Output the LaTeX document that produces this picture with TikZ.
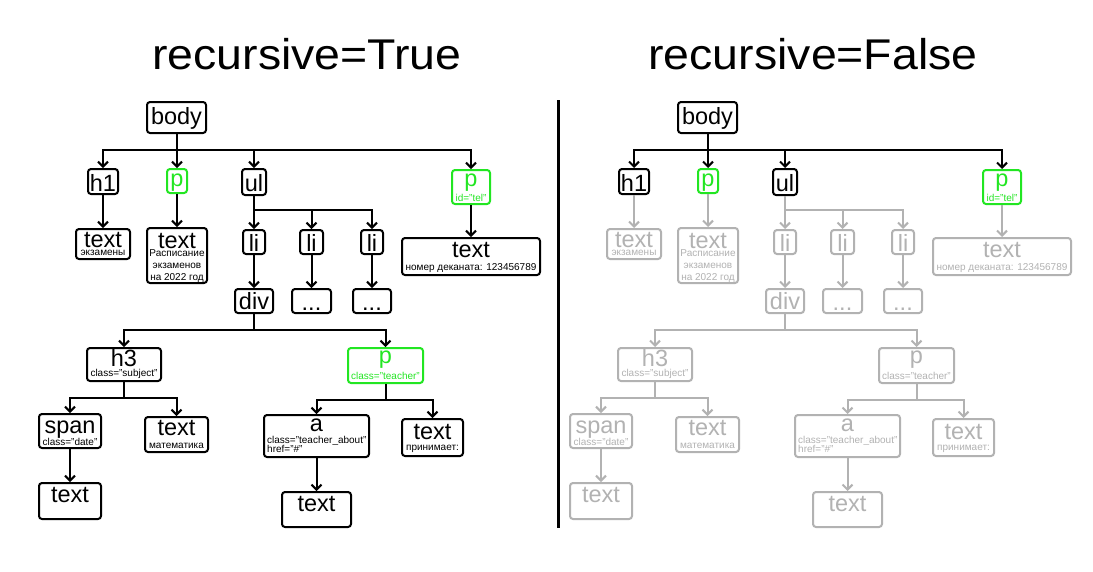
\documentclass[tikz,border=0pt]{standalone}
\usepackage{fontspec}
\usepackage{graphicx}
\setmainfont{Liberation Sans}
\usetikzlibrary{arrows.meta}
\definecolor{grn}{RGB}{34,230,34}
\definecolor{gry}{RGB}{178,178,178}
\newcommand\mainf{\fontsize{23.5}{26}\selectfont}
\newcommand\subf{\fontsize{10}{12}\selectfont}
\newcommand\titf{\fontsize{43}{50}\selectfont}
\newcommand\bx[6]{\node[box,#6,minimum width={(#4-#2-2)*1pt},minimum height={(#5-#3-2)*1pt}] (#1) at ({(#2+#4)/2},{(#3+#5)/2}) {};}
\newcommand\domtree{%
  \coordinate (b1) at (0,149.5);
  \coordinate (b2) at (0,209.5);
  \coordinate (b3) at (0,330);
  \coordinate (b4) at (0,398);
  \coordinate (b5) at (0,399.5);
  % boxes
  \bx{body}{146}{101}{207}{134}{cK}
  \bx{h1}{87}{168}{119}{195}{cK}
  \bx{pA}{166}{168}{188}{194}{cGA}
  \bx{ul}{241}{168}{267}{196}{cK}
  \bx{pTel}{451}{169}{491}{205}{cGA}
  \bx{t1}{75}{228}{131}{260}{cR}
  \bx{t2}{146}{227}{208}{284}{cR}
  \bx{li1}{242}{229}{266}{255}{cR}
  \bx{li2}{299}{229}{324}{255}{cR}
  \bx{li3}{360}{229}{384}{255}{cR}
  \bx{t3}{401}{237}{541}{276}{cR}
  \bx{div}{234}{288}{274}{314}{cR}
  \bx{d1}{291}{288}{332}{314}{cR}
  \bx{d2}{352}{288}{392}{314}{cR}
  \bx{h3}{86}{347}{162}{382}{cR}
  \bx{pT}{347}{347}{424}{384}{cGT}
  \bx{span}{38}{413}{102}{449}{cR}
  \bx{t4}{144}{416}{209}{453}{cR}
  \bx{a}{263}{414}{370}{458}{cR}
  \bx{t5}{401}{418}{464}{457}{cR}
  \bx{t6}{38}{482}{102}{520}{cR}
  \bx{t7}{281}{491}{352}{528}{cR}
  % labels
  \node[lbl,cK,font=\mainf] (body-l) at (176.5,124.5) {body};
  \node[lbl,cK,font=\mainf] (h1-l) at (103,191.5) {h1};
  \node[lbl,cGA,font=\mainf] (pA-l) at (177,186) {p};
  \node[lbl,cK,font=\mainf] (ul-l) at (254,191.5) {ul};
  \node[lbl,cGA,font=\mainf] (pTel-l) at (471,186.5) {p};
  \node[lbl,cGA,font=\subf] (pTel-s) at (471,201) {id="tel"};
  \node[lbl,cR,font=\mainf] (t1-l) at (103,247.5) {text};
  \node[lbl,cR,font=\subf] (t1-s) at (103,255) {экзамены};
  \node[lbl,cR,font=\mainf] (t2-l) at (177,248) {text};
  \node[lbl,cR,font=\subf] (t2-s1) at (177,256.5) {Расписание};
  \node[lbl,cR,font=\subf] (t2-s2) at (177,268.5) {экзаменов};
  \node[lbl,cR,font=\subf] (t2-s3) at (177,280.5) {на 2022 год};
  \node[lbl,cR,font=\mainf] (li1-l) at (254,251.5) {li};
  \node[lbl,cR,font=\mainf] (li2-l) at (311.5,251.5) {li};
  \node[lbl,cR,font=\mainf] (li3-l) at (372,251.5) {li};
  \node[lbl,cR,font=\mainf] (t3-l) at (471,257.5) {text};
  \node[lbl,cR,font=\subf] (t3-s) at (471,270) {номер деканата: 123456789};
  \node[lbl,cR,font=\mainf] (div-l) at (254,309.5) {div};
  \node[lbl,cR,font=\mainf] (d1-l) at (311.5,310) {...};
  \node[lbl,cR,font=\mainf] (d2-l) at (372,310) {...};
  \node[lbl,cR,font=\mainf] (h3-l) at (124,366.5) {h3};
  \node[lbl,cR,font=\subf] (h3-s) at (124,376.5) {class="subject"};
  \node[lbl,cGT,font=\mainf] (pT-l) at (385.5,363.5) {p};
  \node[lbl,cGT,font=\subf] (pT-s) at (385.5,379) {class="teacher"};
  \node[lbl,cR,font=\mainf] (span-l) at (70,433) {span};
  \node[lbl,cR,font=\subf] (span-s) at (70,445) {class="date"};
  \node[lbl,cR,font=\mainf] (t4-l) at (176.5,435.5) {text};
  \node[lbl,cR,font=\subf] (t4-s) at (176.5,448) {математика};
  \node[lbl,cR,font=\mainf] (a-l) at (316.5,431.5) {a};
  \node[lbl,cR,font=\subf,anchor=base west] (a-s1) at (267,443) {class="teacher\_about"};
  \node[lbl,cR,font=\subf,anchor=base west] (a-s2) at (267,452) {href="\#"};
  \node[lbl,cR,font=\mainf] (t5-l) at (432.5,439) {text};
  \node[lbl,cR,font=\subf] (t5-s) at (432.5,450) {принимает:};
  \node[lbl,cR,font=\mainf] (t6-l) at (70,502) {text};
  \node[lbl,cR,font=\mainf] (t7-l) at (316.5,511.5) {text};
  % connectors
  \draw[arr,eT] (body.south) -- (body.south |- b1) -| (h1.north);
  \draw[arr,eT] (body.south) -- (body.south |- b1) -| (pA.north);
  \draw[arr,eT] (body.south) -- (body.south |- b1) -| (ul.north);
  \draw[arr,eT] (body.south) -- (body.south |- b1) -| (pTel.north);
  \draw[arr,eR] (h1.south) -- (t1.north);
  \draw[arr,eR] (pA.south) -- (t2.north);
  \draw[arr,eR] (pTel.south) -- (t3.north);
  \draw[arr,eR] (ul.south) -- (ul.south |- b2) -| (li1.north);
  \draw[arr,eR] (ul.south) -- (ul.south |- b2) -| (li2.north);
  \draw[arr,eR] (ul.south) -- (ul.south |- b2) -| (li3.north);
  \draw[arr,eR] (li1.south) -- (div.north);
  \draw[arr,eR] (li2.south) -- (d1.north);
  \draw[arr,eR] (li3.south) -- (d2.north);
  \draw[arr,eR] (div.south) -- (div.south |- b3) -| (h3.north);
  \draw[arr,eR] (div.south) -- (div.south |- b3) -| (pT.north);
  \draw[arr,eR] (h3.south) -- (h3.south |- b4) -| (span.north);
  \draw[arr,eR] (h3.south) -- (h3.south |- b4) -| (t4.north);
  \draw[arr,eR] (pT.south) -- (pT.south |- b5) -| (a.north);
  \draw[arr,eR] (pT.south) -- (pT.south |- b5) -| (t5.north);
  \draw[arr,eR] (span.south) -- (t6.north);
  \draw[arr,eR] (a.south) -- (t7.north);
}
\begin{document}
\begin{tikzpicture}[x=1pt,y=-1pt,
  box/.style={draw, rounded corners=3pt, line width=2pt, inner sep=0pt},
  lbl/.style={anchor=base, inner sep=0pt},
  arr/.style={-{Straight Barb[length=5pt,width=10pt]}, line width=2pt},
  cK/.style={color=black}, cGA/.style={color=grn}]
  \fill[white] (0,0) rectangle (1093,571);
  \useasboundingbox (0,0) rectangle (1093,571);
  \node[font=\titf, anchor=base, inner sep=0pt] (titleL) at (307,69) {\scalebox{1.08}[1]{recursive=True}};
  \node[font=\titf, anchor=base, inner sep=0pt] (titleR) at (813,69) {\scalebox{1.08}[1]{recursive=False}};
  \coordinate (divtop) at (558.5,100);
  \coordinate (divbot) at (558.5,528);
  \draw[line width=3pt] (divtop) -- (divbot);
  \begin{scope}[cGT/.style={color=grn}, cR/.style={color=black},
      eT/.style={draw=black}, eR/.style={draw=black}]
    \domtree
  \end{scope}
  \begin{scope}[xshift=531pt, name prefix=R-, cGT/.style={color=gry}, cR/.style={color=gry},
      eT/.style={draw=black}, eR/.style={draw=gry}]
    \domtree
  \end{scope}
\end{tikzpicture}
\end{document}
